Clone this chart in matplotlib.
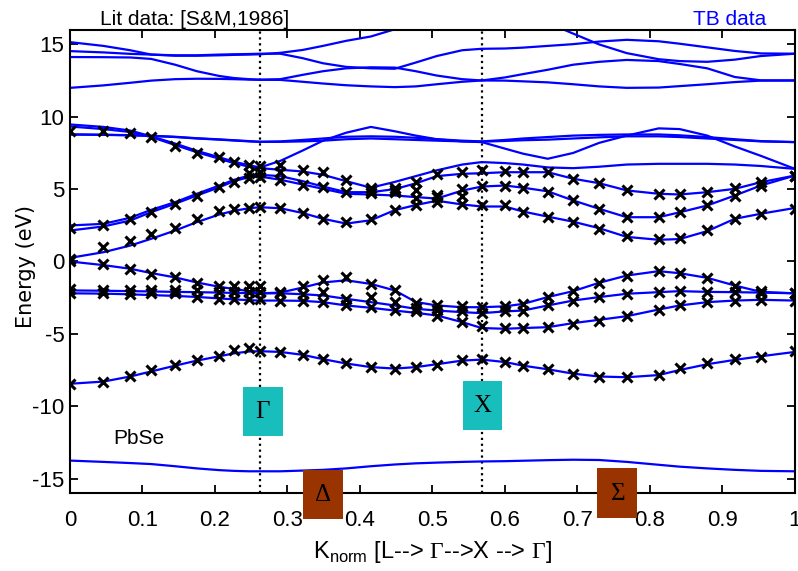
import numpy as np
import matplotlib
matplotlib.use('Agg')
import matplotlib.pyplot as plt
from matplotlib.patches import Rectangle

nan = np.nan

# normalised k along L -> Gamma -> X -> Gamma
k = [0.0, 0.046, 0.083, 0.112, 0.145, 0.175, 0.206, 0.226, 0.247, 0.262,
     0.290, 0.321, 0.349, 0.381, 0.415, 0.448, 0.477, 0.506, 0.541, 0.568,
     0.600, 0.625, 0.659, 0.694, 0.730, 0.768, 0.812, 0.841, 0.879, 0.917, 0.953, 1.0]

# TB bands (eV)
tb_s = [-13.76, -13.85, -13.93, -14.0, -14.15, -14.3, -14.42, -14.47, -14.5, -14.5,
        -14.5, -14.45, -14.4, -14.3, -14.15, -14.03, -13.95, -13.9, -13.85, -13.82,
        -13.8, -13.77, -13.73, -13.7, -13.72, -13.85, -14.05, -14.18, -14.3, -14.4, -14.47, -14.5]
tb_v0 = [-8.45, -8.3, -7.95, -7.6, -7.2, -6.85, -6.55, -6.35, -6.22, -6.2,
         -6.25, -6.45, -6.75, -7.05, -7.3, -7.4, -7.3, -7.1, -6.85, -6.78,
         -6.95, -7.2, -7.45, -7.75, -7.95, -8.0, -7.85, -7.5, -7.1, -6.8, -6.55, -6.25]
tb_v1 = [0.0, -0.25, -0.5, -0.8, -1.1, -1.45, -1.75, -1.9, -2.05, -2.2,
         -2.15, -1.8, -1.45, -1.3, -1.55, -2.0, -2.8, -3.04, -3.16, -3.16,
         -3.1, -2.93, -2.46, -2.05, -1.47, -0.97, -0.67, -0.81, -1.13, -1.66, -2.1, -2.2]
tb_v2 = [-2.0, -2.02, -2.05, -2.07, -2.1, -2.12, -2.15, -2.17, -2.19, -2.2,
         -2.2, -2.26, -2.35, -2.58, -2.81, -3.04, -3.27, -3.39, -3.5, -3.57,
         -3.45, -3.39, -3.04, -2.7, -2.46, -2.23, -2.12, -2.05, -2.1, -2.12, -2.15, -2.2]
tb_v3 = [-2.2, -2.22, -2.27, -2.32, -2.38, -2.45, -2.55, -2.62, -2.67, -2.7,
         -2.7, -2.72, -2.81, -3.04, -3.2, -3.39, -3.55, -3.73, -4.19, -4.6,
         -4.65, -4.6, -4.54, -4.26, -4.03, -3.78, -3.32, -3.04, -2.81, -2.7, -2.65, -2.7]
tb_c1 = [0.25, 0.64, 1.1, 1.57, 2.14, 2.72, 3.25, 3.5, 3.68, 3.75,
         3.68, 3.35, 2.95, 2.62, 2.85, 3.55, 3.9, 4.2, 3.94, 3.8,
         3.8, 3.45, 3.1, 2.75, 2.3, 1.7, 1.5, 1.55, 2.1, 2.95, 3.3, 3.7]
tb_c2 = [2.14, 2.42, 2.83, 3.41, 3.99, 4.56, 5.13, 5.55, 5.83, 5.87,
         5.65, 5.32, 5.02, 4.68, 4.63, 4.56, 4.45, 4.35, 4.9, 5.18,
         5.25, 5.1, 4.85, 4.22, 3.64, 3.06, 3.06, 3.4, 3.87, 4.56, 5.25, 5.94]
tb_c3 = [2.49, 2.6, 3.02, 3.57, 4.1, 4.68, 5.25, 5.64, 5.94, 5.99,
         5.9, 5.55, 5.18, 4.79, 4.79, 5.0, 5.4, 5.9, 6.06, 6.1,
         6.17, 6.17, 6.17, 5.72, 5.41, 4.91, 4.68, 4.63, 4.79, 5.02, 5.48, 5.94]
tb_c4 = [9.33, 9.15, 8.95, 8.6, 8.05, 7.55, 7.1, 6.8, 6.55, 6.45,
         6.34, 6.22, 5.99, 5.55, 5.1, 5.5, 5.9, 6.3, 6.7, 6.87,
         6.8, 6.7, 6.5, 6.45, 6.55, 6.7, 6.75, 6.75, 6.75, 6.7, 6.6, 6.4]
tb_arc = [9.47, 9.3, 9.05, 8.65, 8.15, 7.65, 7.2, 6.9, 6.65, 6.5,
          6.95, 7.67, 8.35, 8.9, 9.3, 9.0, 8.7, 8.45, 8.3, 8.25,
          7.8, 7.45, 7.1, 7.5, 8.2, 8.7, 9.2, 9.15, 8.7, 7.95, 7.3, 6.4]
tb_f1 = [8.78, 8.75, 8.72, 8.68, 8.6, 8.5, 8.42, 8.36, 8.3, 8.27,
         8.27, 8.3, 8.35, 8.45, 8.5, 8.45, 8.4, 8.35, 8.3, 8.28,
         8.33, 8.38, 8.42, 8.5, 8.58, 8.65, 8.65, 8.6, 8.5, 8.4, 8.3, 8.25]
tb_f2 = [8.78, 8.76, 8.73, 8.69, 8.62, 8.52, 8.44, 8.38, 8.32, 8.27,
         8.3, 8.4, 8.5, 8.62, 8.65, 8.62, 8.55, 8.45, 8.35, 8.3,
         8.4, 8.5, 8.6, 8.7, 8.75, 8.78, 8.78, 8.72, 8.6, 8.45, 8.32, 8.25]
tb_u1 = [12.0, 12.17, 12.35, 12.5, 12.6, 12.63, 12.62, 12.6, 12.57, 12.56,
         12.55, 12.42, 12.3, 12.18, 12.1, 12.05, 12.1, 12.25, 12.42, 12.51,
         12.5, 12.45, 12.38, 12.25, 12.1, 12.0, 12.02, 12.12, 12.25, 12.4, 12.5, 12.51]
tb_u2 = [14.13, 14.12, 14.1, 14.0, 13.6, 13.15, 12.82, 12.68, 12.6, 12.56,
         12.6, 12.9, 13.15, 13.35, 13.42, 13.4, 13.15, 12.85, 12.6, 12.51,
         12.72, 12.95, 13.25, 13.6, 13.8, 13.93, 13.85, 13.65, 13.35, 12.75, 12.52, 12.51]
tb_u3 = [14.54, 14.45, 14.35, 14.3, 14.25, 14.25, 14.3, 14.32, 14.34, 14.36,
         14.36, 14.05, 13.7, 13.45, 13.35, 13.32, 13.75, 14.2, 14.6, 14.7,
         14.72, 14.78, 14.9, 15.02, 15.2, 15.32, 15.22, 15.05, 14.8, 14.55, 14.38, 14.36]
tb_u4 = [15.16, 14.9, 14.6, 14.3, 14.22, 14.22, 14.25, 14.28, 14.3, 14.32,
         14.42, 14.62, 14.9, 15.25, 15.55, 16.05, 16.5, nan, nan, nan,
         nan, nan, 16.5, 15.75, 15.0, 14.4, 13.98, 13.85, 13.8, 13.95, 14.2, 14.36]

# literature points [S&M,1986]
lit_v0 = [-8.46, -8.34, -7.88, -7.47, -7.14, -6.8, -6.5, -6.15, -6.0, -6.2,
          -6.25, -6.45, -6.77, -7.03, -7.3, -7.42, -7.3, -7.14, -6.8, -6.73,
          -6.96, -7.19, -7.42, -7.81, -7.95, -8.0, -7.83, -7.35, -7.03, -6.73, -6.57, -6.2]
lit_v1 = [0.05, -0.2, -0.5, -0.85, -1.08, -1.47, -1.66, -1.66, -1.66, -1.7,
          -2.12, -1.66, -1.31, -1.08, -1.54, -2.0, -2.86, -3.0, -3.1, -3.15,
          -3.1, -2.93, -2.46, -2.05, -1.47, -0.97, -0.67, -0.81, -1.13, -1.66, -2.05, -2.2]
lit_v2 = [-1.93, -1.97, -2.0, -2.0, -1.97, -1.97, -2.12, -2.12, -2.12, -2.12,
          -2.15, -2.26, -2.12, -2.58, -2.46, -2.81, -3.2, -3.35, -3.45, -3.55,
          -3.45, -3.39, -3.04, -2.7, -2.46, -2.23, -2.12, -2.05, -2.1, -2.12, -2.2, -2.2]
lit_v3 = [-2.2, -2.2, -2.25, -2.2, -2.2, -2.44, -2.58, -2.58, -2.58, -2.6,
          -2.7, -2.72, -2.81, -3.04, -3.16, -3.34, -3.45, -3.75, -4.2, -4.45,
          -4.58, -4.6, -4.55, -4.35, -4.1, -3.8, -3.32, -3.04, -2.81, -2.7, -2.65, -2.7]
lit_c1 = [0.19, 1.0, 1.45, 1.87, 2.33, 2.95, 3.5, 3.6, 3.68, 3.75,
          3.68, 3.37, 2.95, 2.72, 2.95, 3.57, 3.87, 4.1, 3.94, 3.87,
          3.87, 3.41, 3.06, 2.72, 2.26, 1.73, 1.57, 1.6, 2.19, 2.95, 3.3, 3.64]
lit_c2 = [2.3, 2.49, 2.95, 3.41, 3.99, 4.56, 5.13, 5.5, 5.8, 5.85,
          5.64, 5.3, 5.18, 4.79, 4.7, 4.8, 4.91, 4.45, 5.02, 5.25,
          5.25, 5.09, 4.79, 4.22, 3.64, 3.06, 3.06, 3.41, 3.87, 4.56, 5.25, 5.94]
lit_c3 = [9.05, 9.0, 8.85, 8.6, 8.0, 7.5, 7.2, 6.85, 6.7, 6.6,
          6.64, 6.29, 6.17, 5.6, 5.09, 5.09, 5.48, 6.06, 6.17, 6.35,
          6.25, 6.17, 6.17, 5.72, 5.41, 4.91, 4.68, 4.63, 4.79, 5.1, 5.5, 5.94]
lit_c4 = [nan, nan, nan, nan, nan, nan, nan, nan, 6.1, 6.17,
          6.17, nan, nan, nan, 4.9, 4.95, 4.4, 4.6, 4.55, nan,
          nan, nan, nan, nan, nan, nan, nan, nan, nan, nan, nan, nan]

tb_bands = [tb_s, tb_v0, tb_v1, tb_v2, tb_v3, tb_c1, tb_c2, tb_c3, tb_c4,
            tb_arc, tb_f1, tb_f2, tb_u1, tb_u2, tb_u3, tb_u4]
lit_bands = [lit_v0, lit_v1, lit_v2, lit_v3, lit_c1, lit_c2, lit_c3, lit_c4]

sym_k = [0.262, 0.568]
xticks = [0, 0.1, 0.2, 0.3, 0.4, 0.5, 0.6, 0.7, 0.8, 0.9, 1.0]
xticklabels = ['0', '0.1', '0.2', '0.3', '0.4', '0.5', '0.6', '0.7', '0.8', '0.9', '1']
yticks = [-15, -10, -5, 0, 5, 10, 15]
yticklabels = ['-15', '-10', '-5', '0', '5', '10', '15']

# label boxes: text, k centre, E centre, colour
boxes = [(r'$\Gamma$', 0.266, -10.35, '#17bebb'),
         (r'$\mathrm{X}$', 0.569, -9.95, '#17bebb'),
         (r'$\Delta$', 0.349, -16.1, '#993300'),
         (r'$\Sigma$', 0.755, -16.0, '#993300')]

plt.rcParams['font.family'] = ['Liberation Sans', 'DejaVu Sans']
plt.rcParams['mathtext.fontset'] = 'custom'
plt.rcParams['mathtext.rm'] = 'Liberation Serif'
plt.rcParams['mathtext.sf'] = 'Liberation Sans'

fig = plt.figure(figsize=(7.98, 5.71), dpi=100)
ax = fig.add_axes([0.0877, 0.1366, 0.9085, 0.8109])

for band in tb_bands:
    ax.plot(k, band, color='blue', lw=1.6, zorder=2)
for band in lit_bands:
    ax.plot(k, band, ls='none', marker='x', color='black', ms=7, mew=2.2, zorder=3)
for kx in sym_k:
    ax.axvline(kx, color='black', ls=':', lw=1.6, zorder=1)

bw, bh = 0.055, 3.4
for txt, bx, by, col in boxes:
    ax.add_patch(Rectangle((bx - bw / 2, by - bh / 2), bw, bh, facecolor=col,
                           edgecolor='none', zorder=5, clip_on=False))
    ax.text(bx, by, txt, ha='center', va='center', fontsize=18, zorder=6,
            clip_on=False)

ax.set_xlim(0, 1)
ax.set_ylim(-16, 16)
ax.set_xticks(xticks)
ax.set_xticklabels(xticklabels)
ax.set_yticks(yticks)
ax.set_yticklabels(yticklabels)
ax.tick_params(direction='in', top=True, right=True, length=6, width=1.3,
               labelsize=16)
ax.tick_params(axis='x', pad=12)
ax.tick_params(axis='y', pad=4)
for sp in ax.spines.values():
    sp.set_linewidth(1.5)

ax.set_ylabel('Energy (eV)', fontsize=15, family='DejaVu Sans')
ax.yaxis.set_label_coords(-0.047, 0.49)
ax.set_xlabel(r'K$_{\mathsf{norm}}$ [L--> $\Gamma$-->X --> $\Gamma$]', fontsize=17, labelpad=6)

ax.text(0.06, -12.2, 'PbSe', fontsize=15, va='center')
fig.text(0.125, 0.956, 'Lit data: [S&M,1986]', fontsize=15, va='baseline')
fig.text(0.868, 0.956, 'TB data', fontsize=15, va='baseline', color='blue')

fig.savefig('out.png', dpi=100)
